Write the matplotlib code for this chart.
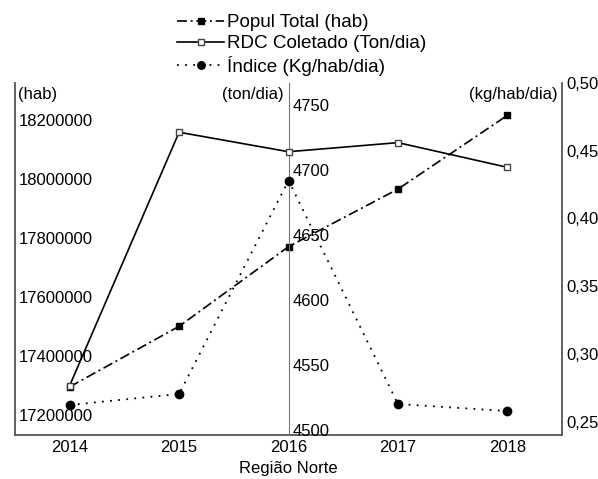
import matplotlib.pyplot as plt

plt.rcParams['font.family'] = ['Liberation Sans', 'DejaVu Sans']
plt.rcParams['font.size'] = 12

# ─── DATA ────────────────────────────────────────────────────────────────
years = [2014, 2015, 2016, 2017, 2018]
populacao = [17295000, 17500000, 17770000, 17965000, 18215000]   # hab
rdc_coletado = [4534, 4729, 4714, 4721, 4702]                    # ton/dia
indice = [0.2625, 0.2706, 0.428, 0.2632, 0.258]                  # kg/hab/dia

hab_ticks = [17200000, 17400000, 17600000, 17800000, 18000000, 18200000]
ton_ticks = [4500, 4550, 4600, 4650, 4700, 4750]
idx_ticks = [0.25, 0.30, 0.35, 0.40, 0.45, 0.50]

# ─── FIGURE ──────────────────────────────────────────────────────────────
fig = plt.figure(figsize=(5.98, 4.79), dpi=100)
ax = fig.add_axes([0.025, 0.092, 0.915, 0.735])
ax_ton = ax.twinx()
ax_idx = ax.twinx()

spine_col = '#555555'
dashdot = (0, (6, 2.2, 1.2, 2.2))
dotted = (0, (1, 3.5))

# population (left axis)
l1, = ax.plot(years, populacao, color='black', linestyle=dashdot, lw=1.2,
              marker='s', markersize=5, markerfacecolor='black', zorder=5)
ax.set_xlim(2013.5, 2018.5)
ax.set_ylim(17132000, 18325000)
ax.set_yticks(hab_ticks)
ax.set_yticklabels([str(v) for v in hab_ticks])
ax.tick_params(axis='y', direction='in', length=0, pad=-3)
for lab in ax.get_yticklabels():
    lab.set_horizontalalignment('left')
ax.set_xticks(years)
ax.tick_params(axis='x', length=0, pad=4)
ax.set_xlabel('Região Norte', labelpad=4)

# RDC collected (middle axis at 2016)
l2, = ax_ton.plot(years, rdc_coletado, color='black', linestyle='-', lw=1.2,
                  marker='s', markersize=5, markerfacecolor='white',
                  markeredgecolor='#444444', zorder=5)
ax_ton.set_ylim(4496, 4767)
ax_ton.set_yticks(ton_ticks)
ax_ton.yaxis.set_ticks_position('left')
ax_ton.yaxis.set_label_position('left')
ax_ton.spines['left'].set_position(('data', 2016))
ax_ton.spines['left'].set_visible(True)
ax_ton.spines['left'].set_color('#777777')
ax_ton.tick_params(axis='y', length=0, pad=-3)
for lab in ax_ton.get_yticklabels():
    lab.set_horizontalalignment('left')

# index (right axis)
l3, = ax_idx.plot(years, indice, color='black', linestyle=dotted, lw=1.3,
                  marker='o', markersize=6, zorder=5)
ax_idx.set_ylim(0.2404, 0.50)
ax_idx.set_yticks(idx_ticks)
ax_idx.set_yticklabels([f'{v:.2f}'.replace('.', ',') for v in idx_ticks])
ax_idx.tick_params(axis='y', length=0, pad=3)

for a in (ax, ax_ton, ax_idx):
    a.spines['top'].set_visible(False)
    a.patch.set_visible(False)
for a in (ax_ton, ax_idx):
    a.spines['bottom'].set_visible(False)
ax.spines['right'].set_visible(False)
ax_ton.spines['right'].set_visible(False)
ax_idx.spines['left'].set_visible(False)
for s in ('left', 'bottom'):
    ax.spines[s].set_color(spine_col)
    ax.spines[s].set_linewidth(1.3)
ax_idx.spines['right'].set_color(spine_col)
ax_idx.spines['right'].set_linewidth(1.3)

# unit labels
fig.text(0.030, 0.802, '(hab)', ha='left', va='center')
fig.text(0.475, 0.802, '(ton/dia)', ha='right', va='center')
fig.text(0.932, 0.802, '(kg/hab/dia)', ha='right', va='center')

fig.legend([l1, l2, l3],
           ['Popul Total (hab)', 'RDC Coletado (Ton/dia)', 'Índice (Kg/hab/dia)'],
           loc='upper left', bbox_to_anchor=(177 / 598, 1 - 14 / 479),
           frameon=False, fontsize=13.6, handlelength=2.5,
           handletextpad=0.15, labelspacing=0.2, borderpad=0,
           borderaxespad=0, markerscale=0.9)

fig.savefig('out.png', dpi=100)
